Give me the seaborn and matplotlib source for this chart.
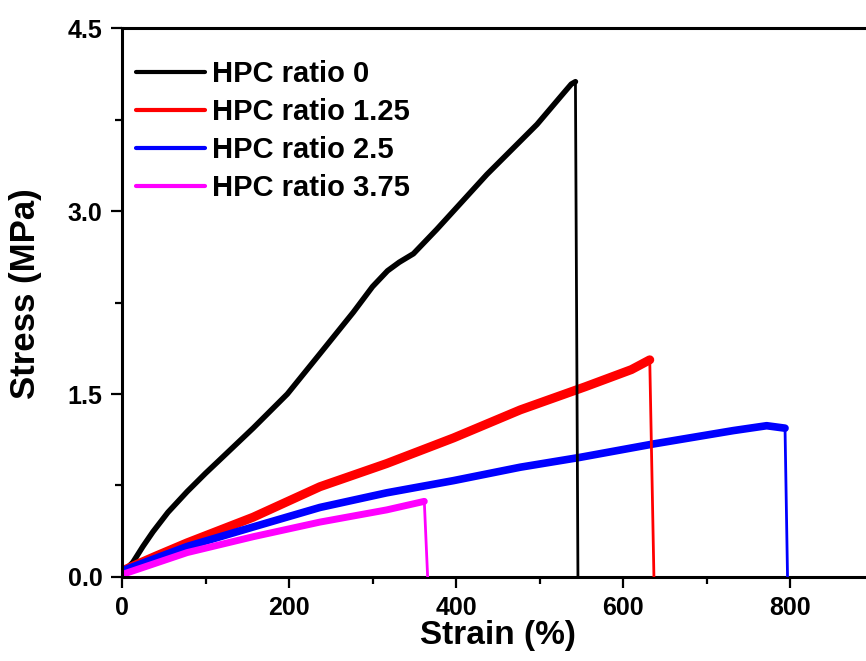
import numpy as np
import seaborn as sns
import matplotlib.pyplot as plt
from matplotlib.ticker import MultipleLocator

# stress-strain curves, last point of each is the break (drop to zero)
strain_0 = [0, 13, 25, 37, 55, 78, 100, 117, 157, 198, 237, 277, 300, 318, 332, 349, 377, 437, 497, 528, 538, 543, 546]
stress_0 = [0.03, 0.12, 0.25, 0.37, 0.53, 0.70, 0.85, 0.96, 1.22, 1.50, 1.83, 2.17, 2.38, 2.51, 2.58, 2.65, 2.85, 3.30, 3.71, 3.96, 4.04, 4.06, 0.0]

strain_125 = [0, 40, 78, 157, 237, 317, 397, 477, 555, 610, 632, 637]
stress_125 = [0.05, 0.17, 0.28, 0.49, 0.74, 0.93, 1.14, 1.37, 1.56, 1.70, 1.78, 0.0]

strain_25 = [0, 78, 157, 237, 317, 397, 477, 548, 636, 732, 772, 794, 797]
stress_25 = [0.05, 0.25, 0.41, 0.57, 0.69, 0.79, 0.90, 0.98, 1.09, 1.20, 1.24, 1.22, 0.0]

strain_375 = [0, 78, 157, 237, 317, 362, 366]
stress_375 = [0.02, 0.20, 0.33, 0.45, 0.55, 0.62, 0.0]

labels = ['HPC ratio 0', 'HPC ratio 1.25', 'HPC ratio 2.5', 'HPC ratio 3.75']
colors = ['#000000', '#ff0000', '#0000ff', '#ff00ff']
widths = [4.0, 6.5, 5.5, 5.0]

sns.set_style("ticks")
plt.rcParams['font.family'] = ['Liberation Sans', 'DejaVu Sans']
plt.rcParams['font.weight'] = 'bold'
plt.rcParams['axes.labelweight'] = 'bold'
for k in ['text.color', 'axes.labelcolor', 'xtick.color', 'ytick.color', 'axes.edgecolor']:
    plt.rcParams[k] = 'black'

fig = plt.figure(figsize=(8.66, 6.61), dpi=100)
ax = fig.add_axes([0.1409, 0.1271, 0.8678, 0.8305])

series = [(strain_0, stress_0), (strain_125, stress_125), (strain_25, stress_25), (strain_375, stress_375)]
for (sx, sy), lab, c, w in zip(series, labels, colors, widths):
    sns.lineplot(x=sx[:-1], y=sy[:-1], color=c, lw=w, label=lab, sort=False, estimator=None, ax=ax,
                 solid_joinstyle='round', solid_capstyle='round')
    sns.lineplot(x=sx[-2:], y=sy[-2:], color=c, lw=2.0, sort=False, estimator=None, ax=ax, zorder=5)

ax.set_xlim(0, 900)
ax.set_ylim(0, 4.5)
ax.set_xticks([0, 200, 400, 600, 800])
ax.set_yticks([0, 1.5, 3.0, 4.5])
ax.set_yticklabels(['0.0', '1.5', '3.0', '4.5'])
ax.xaxis.set_minor_locator(MultipleLocator(100))
ax.yaxis.set_minor_locator(MultipleLocator(0.75))
ax.tick_params(which='major', direction='out', length=8, width=1.6, labelsize=18, pad=6)
ax.tick_params(which='minor', direction='out', length=5, width=1.6)
for s in ax.spines.values():
    s.set_linewidth(2.2)

ax.set_xlabel('Strain (%)', fontsize=24, fontweight='bold', labelpad=0)
ax.set_ylabel('Stress (MPa)', fontsize=25, fontweight='bold')
ax.yaxis.set_label_coords(-0.107, 0.517)

leg = ax.legend(loc='upper left', bbox_to_anchor=(0.0186, 0.942), frameon=False,
                prop={'size': 21, 'weight': 'bold'}, handlelength=2.36,
                handletextpad=0.24, labelspacing=0.35, borderaxespad=0, borderpad=0)
for h in leg.get_lines():
    h.set_linewidth(3)

plt.savefig("out.png", dpi=100)
